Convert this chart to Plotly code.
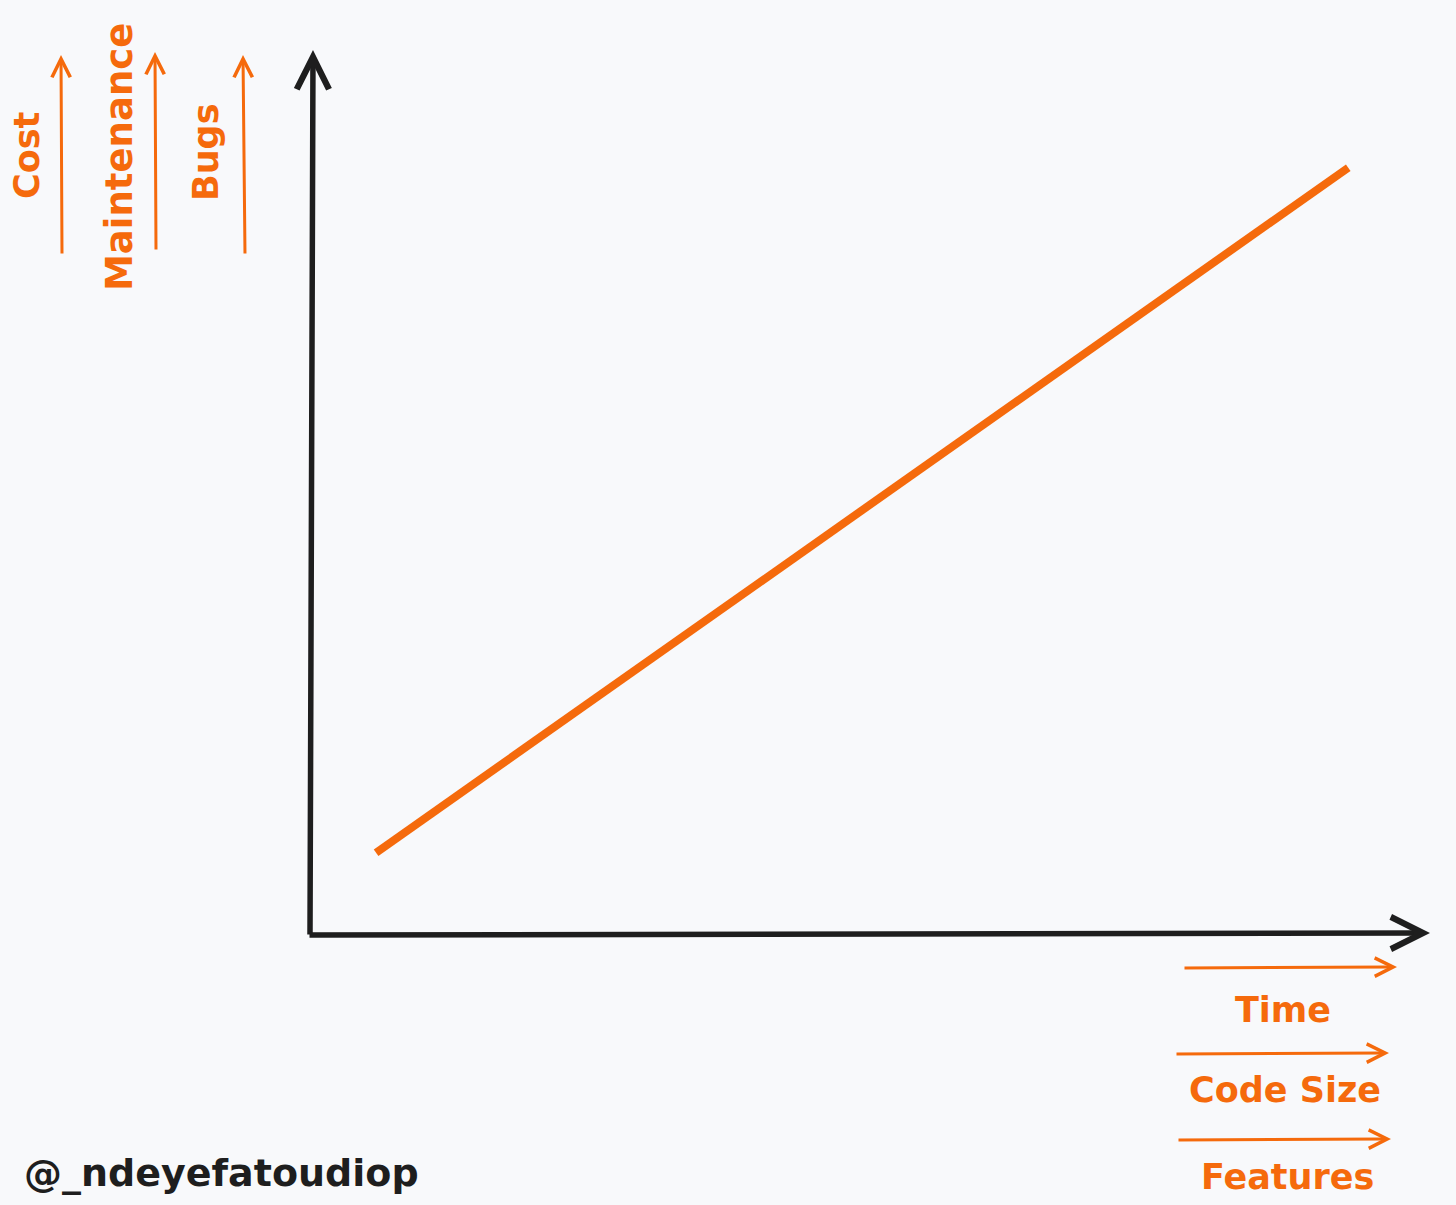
import plotly.graph_objects as go

W, H = 1456, 1205
ORANGE = "#f56a0c"
BLACK = "#1e1e1e"
BG = "#f8f9fb"
FONT = "DejaVu Sans"

# Data (normalised growth over time)
time_vals = [0.059, 0.927]
growth_vals = [0.093, 0.867]

y_labels = ["Cost", "Maintenance", "Bugs"]
x_labels = ["Time", "Code Size", "Features"]
credit = "@_ndeyefatoudiop"

fig = go.Figure()
fig.add_trace(go.Scatter(x=time_vals, y=growth_vals, mode="lines",
                         line=dict(color=ORANGE, width=8), hoverinfo="skip",
                         showlegend=False))

def px(x):
    return x / W

def py(y):
    return 1 - y / H

def arrow(tail, head, color, width, size, headstyle=5):
    fig.add_annotation(x=px(head[0]), y=py(head[1]), xref="paper", yref="paper",
                       ax=tail[0] - head[0], ay=tail[1] - head[1],
                       axref="pixel", ayref="pixel", text="", showarrow=True,
                       arrowhead=headstyle, arrowwidth=width, arrowsize=size,
                       arrowcolor=color, standoff=0)

def label(text, x, y, color, size, angle=0, xanchor="center"):
    fig.add_annotation(x=px(x), y=py(y), xref="paper", yref="paper", text=text,
                       showarrow=False, textangle=angle, xanchor=xanchor, yanchor="middle",
                       font=dict(family=FONT, size=size, color=color, weight="bold"))

# main axes
arrow((310, 936), (313, 50), BLACK, 5.5, 1.15)
arrow((308, 935), (1430, 933), BLACK, 5.5, 1.15)

# vertical orange arrows + labels
arrow((62, 255), (61, 55), ORANGE, 3, 1.2)
arrow((156, 251), (155, 52), ORANGE, 3, 1.2)
arrow((245, 255), (243, 55), ORANGE, 3, 1.2)
label(y_labels[0], 27, 156, ORANGE, 35, angle=-90)
label(y_labels[1], 120, 157, ORANGE, 37, angle=-90)
label(y_labels[2], 206, 153, ORANGE, 35, angle=-90)

# horizontal orange arrows + labels
arrow((1183, 968), (1397, 967), ORANGE, 3, 1.2)
arrow((1175, 1054), (1389, 1053), ORANGE, 3, 1.2)
arrow((1177, 1140), (1391, 1139), ORANGE, 3, 1.2)
label(x_labels[0], 1283, 1010, ORANGE, 35)
label(x_labels[1], 1285, 1090, ORANGE, 35)
label(x_labels[2], 1287, 1177, ORANGE, 35)

label(credit, 22, 1173, BLACK, 38, xanchor="left")

fig.update_layout(
    width=W, height=H,
    margin=dict(l=0, r=0, t=0, b=0),
    paper_bgcolor=BG, plot_bgcolor=BG,
    xaxis=dict(domain=[310 / W, 1430 / W], range=[0, 1], visible=False, fixedrange=True),
    yaxis=dict(domain=[1 - 935 / H, 1 - 50 / H], range=[0, 1], visible=False, fixedrange=True),
    showlegend=False,
)

fig.write_html("out.html", config={"displayModeBar": False},
               post_script="document.body.style.margin='0';document.body.style.background='%s';" % BG)
